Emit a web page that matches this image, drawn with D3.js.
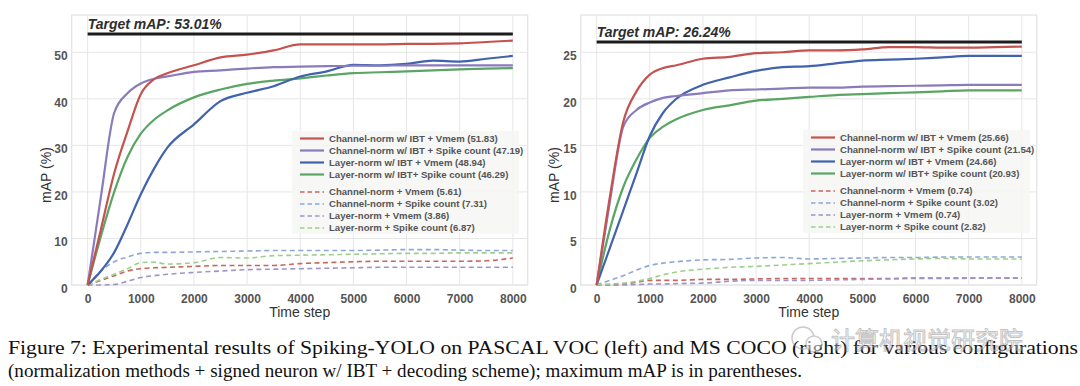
<!DOCTYPE html>
<html>
<head>
<meta charset="utf-8">
<script src="https://cdn.jsdelivr.net/npm/d3@7"></script>
<style>
  body { margin: 0; background: #fff; }
  svg { display: block; }
</style>
</head>
<body>
<div id="chart"></div>
<script>
// time steps shared by every curve
const steps = [0, 250, 500, 750, 1000, 1250, 1500, 2000, 2500, 3000, 3500, 4000, 4500, 5000, 5500, 6000, 6500, 7000, 7500, 8000];

// PASCAL VOC (left)
const vocChanIbtVmem  = [0, 12, 24, 33, 41, 44.2, 45.5, 47.2, 48.9, 49.5, 50.4, 51.7, 51.7, 51.7, 51.7, 51.8, 51.8, 51.9, 52.2, 52.5];
const vocChanIbtSpike = [0, 19, 37, 41.2, 43.3, 44.3, 44.8, 45.8, 46.1, 46.5, 46.8, 46.9, 47.0, 47.1, 47.1, 47.2, 47.2, 47.2, 47.2, 47.2];
const vocLayIbtVmem   = [0, 3, 7, 13, 19.5, 25, 29.5, 34.5, 39.5, 41.3, 42.7, 44.8, 45.9, 47.3, 47.2, 47.5, 48.2, 48.0, 48.6, 49.2];
const vocLayIbtSpike  = [0, 10.5, 20, 27.5, 32.5, 35.5, 37.5, 40.3, 42, 43.2, 43.9, 44.4, 45.0, 45.5, 45.7, 45.9, 46.1, 46.3, 46.5, 46.6];
const vocChanVmem     = [0, 1, 2, 3, 3.5, 3.7, 3.8, 4.0, 4.2, 4.2, 4.2, 4.6, 4.8, 5.0, 5.1, 5.1, 5.1, 5.1, 5.2, 5.8];
const vocChanSpike    = [0, 3, 5, 6, 6.8, 7.0, 7.0, 7.1, 7.2, 7.3, 7.4, 7.4, 7.4, 7.4, 7.5, 7.6, 7.6, 7.5, 7.4, 7.4];
const vocLayVmem      = [0, 0, 0.1, 0.8, 1.6, 2.0, 2.3, 2.7, 3.0, 3.3, 3.4, 3.5, 3.6, 3.7, 3.8, 3.8, 3.8, 3.8, 3.8, 3.8];
const vocLaySpike     = [0, 1.2, 2.3, 3.5, 4.8, 4.9, 4.5, 4.8, 5.9, 5.8, 6.3, 6.4, 6.5, 6.6, 6.7, 6.8, 6.8, 6.9, 6.9, 6.9];
const vocMaxima = ["51.83", "47.19", "48.94", "46.29", "5.61", "7.31", "3.86", "6.87"];

// MS COCO (right)
const cocoChanIbtVmem  = [0, 9.5, 17.5, 20.8, 22.6, 23.3, 23.6, 24.3, 24.5, 24.9, 25.0, 25.2, 25.2, 25.3, 25.55, 25.55, 25.5, 25.5, 25.55, 25.6];
const cocoChanIbtSpike = [0, 9, 17, 18.8, 19.6, 20.1, 20.3, 20.6, 20.9, 21.0, 21.1, 21.2, 21.2, 21.3, 21.35, 21.4, 21.45, 21.5, 21.5, 21.5];
const cocoLayIbtVmem   = [0, 4, 8, 12, 16, 18.5, 20, 21.5, 22.3, 23.0, 23.4, 23.5, 23.8, 24.1, 24.2, 24.3, 24.45, 24.6, 24.6, 24.6];
const cocoLayIbtSpike  = [0, 6, 10.5, 13.5, 15.8, 17.0, 17.8, 18.8, 19.3, 19.8, 20.0, 20.2, 20.4, 20.5, 20.6, 20.7, 20.8, 20.9, 20.9, 20.9];
const cocoChanVmem     = [0, 0, 0.1, 0.3, 0.5, 0.5, 0.5, 0.6, 0.6, 0.65, 0.7, 0.7, 0.7, 0.7, 0.7, 0.75, 0.75, 0.74, 0.74, 0.74];
const cocoChanSpike    = [0, 0.5, 1.0, 1.6, 2.1, 2.35, 2.5, 2.7, 2.75, 2.9, 2.95, 2.8, 2.85, 2.9, 2.95, 2.95, 3.0, 3.0, 3.0, 3.0];
const cocoLayVmem      = [0, 0, 0, 0.05, 0.1, 0.1, 0.15, 0.2, 0.4, 0.5, 0.5, 0.5, 0.55, 0.6, 0.65, 0.7, 0.7, 0.72, 0.74, 0.74];
const cocoLaySpike     = [0, 0.1, 0.2, 0.4, 0.7, 1.1, 1.4, 1.7, 1.9, 2.0, 2.15, 2.3, 2.45, 2.6, 2.7, 2.8, 2.85, 2.8, 2.8, 2.8];
const cocoMaxima = ["25.66", "21.54", "24.66", "20.93", "0.74", "3.02", "0.74", "2.82"];

// legend names (max value appended per panel)
const seriesNames = [
  "Channel-norm w/ IBT + Vmem",
  "Channel-norm w/ IBT + Spike count",
  "Layer-norm w/ IBT + Vmem",
  "Layer-norm w/ IBT+ Spike count",
  "Channel-norm + Vmem",
  "Channel-norm + Spike count",
  "Layer-norm + Vmem",
  "Layer-norm + Spike count"
];
const seriesColors = ["#c4534f", "#8a7bbd", "#4163ae", "#5aa564", "#c9655f", "#8ea6d8", "#9f93cc", "#9ccf8c"];
const seriesDashed = [false, false, false, false, true, true, true, true];

const xTicks = [0, 1000, 2000, 3000, 4000, 5000, 6000, 7000, 8000];
const vocYTicks = [0, 10, 20, 30, 40, 50];
const cocoYTicks = [0, 5, 10, 15, 20, 25];

// target line levels as drawn, and their labels
const targetLevels = [53.9, 26.1];
const targetLabels = ["Target mAP: 53.01%", "Target mAP: 26.24%"];

const captionLines = [
  "Figure 7: Experimental results of Spiking-YOLO on PASCAL VOC (left) and MS COCO (right) for various configurations",
  "(normalization methods + signed neuron w/ IBT + decoding scheme); maximum mAP is in parentheses."
];

const W = 1080, H = 386;
const svg = d3.select("#chart").append("svg").attr("width", W).attr("height", H);

const font = "'Liberation Sans', Arial, sans-serif";

function drawPanel(opt) {
  const g = svg.append("g");
  const x = d3.scaleLinear().domain([-300, 8280]).range([opt.left, opt.left + 456]);
  const y = d3.scaleLinear().domain([0, opt.yMax]).range([285, 15]);

  // plot background + frame
  g.append("rect")
    .attr("x", x.range()[0]).attr("y", 15)
    .attr("width", 456).attr("height", 270)
    .attr("fill", "#fff").attr("stroke", "#e2e2e2").attr("stroke-width", 1.2);

  // gridlines
  g.append("g").selectAll("line").data(xTicks).join("line")
    .attr("x1", d => x(d)).attr("x2", d => x(d))
    .attr("y1", 15).attr("y2", 285)
    .attr("stroke", "#e6e6e6").attr("stroke-width", 1);
  g.append("g").selectAll("line").data(opt.yTicks).join("line")
    .attr("x1", x.range()[0]).attr("x2", x.range()[1])
    .attr("y1", d => y(d)).attr("y2", d => y(d))
    .attr("stroke", "#e6e6e6").attr("stroke-width", 1);

  // axes (tick labels only)
  const xAxis = g.append("g").attr("transform", "translate(0,285)")
    .call(d3.axisBottom(x).tickValues(xTicks).tickFormat(d3.format("d")).tickSize(0).tickPadding(9));
  const yAxis = g.append("g").attr("transform", `translate(${x.range()[0]},0)`)
    .call(d3.axisLeft(y).tickValues(opt.yTicks).tickSize(0).tickPadding(4));
  [xAxis, yAxis].forEach(a => {
    a.select(".domain").remove();
    a.selectAll("text")
      .attr("fill", "#555").style("font-family", font)
      .style("font-size", "12px").style("font-weight", "bold");
  });
  yAxis.selectAll("text").attr("dy", "0.62em");

  // target line
  g.append("line")
    .attr("x1", x(0)).attr("x2", x(8000))
    .attr("y1", y(opt.target)).attr("y2", y(opt.target))
    .attr("stroke", "#1c1c1c").attr("stroke-width", 3);
  g.append("text")
    .attr("x", x(0)).attr("y", y(opt.target) - 5)
    .attr("fill", "#2e2e2e")
    .style("font-family", font).style("font-size", "14px")
    .style("font-weight", "bold").style("font-style", "italic")
    .text(opt.targetLabel);

  // curves
  const line = d3.line()
    .x((d, i) => x(steps[i]))
    .y(d => y(d))
    .curve(d3.curveMonotoneX);
  const order = [4, 5, 6, 7, 3, 2, 1, 0];
  order.forEach(k => {
    g.append("path")
      .attr("d", line(opt.series[k]))
      .attr("fill", "none")
      .attr("stroke", seriesColors[k])
      .attr("stroke-width", seriesDashed[k] ? 1.6 : 2.2)
      .attr("stroke-dasharray", seriesDashed[k] ? "5,3.5" : null);
  });

  // legend
  const lg = g.append("g").attr("transform", `translate(${opt.legendX},${opt.legendY})`);
  lg.append("rect")
    .attr("width", opt.legendW).attr("height", 103)
    .attr("fill", "#f6f6f3").attr("opacity", 0.85);
  seriesNames.forEach((name, i) => {
    const yy = 7.5 + i * 12 + (i >= 4 ? 5.5 : 0);
    lg.append("line")
      .attr("x1", 8).attr("x2", 32)
      .attr("y1", yy).attr("y2", yy)
      .attr("stroke", seriesColors[i])
      .attr("stroke-width", seriesDashed[i] ? 1.6 : 2.2)
      .attr("stroke-dasharray", seriesDashed[i] ? "4.5,3" : null);
    lg.append("text")
      .attr("x", 37).attr("y", yy).attr("dy", "0.35em")
      .attr("fill", "#555")
      .style("font-family", font).style("font-size", "9.6px").style("font-weight", "bold")
      .text(`${name} (${opt.maxima[i]})`);
  });

  // axis titles
  g.append("text")
    .attr("x", (x.range()[0] + x.range()[1]) / 2).attr("y", 317)
    .attr("text-anchor", "middle").attr("fill", "#333")
    .style("font-family", font).style("font-size", "14px")
    .text("Time step");
  g.append("text")
    .attr("transform", `translate(${opt.yLabelX},175) rotate(-90)`)
    .attr("text-anchor", "middle").attr("dy", "0.35em").attr("fill", "#333")
    .style("font-family", font).style("font-size", "14px")
    .text("mAP (%)");
}

drawPanel({
  left: 71.7, yMax: 58, yTicks: vocYTicks,
  target: targetLevels[0], targetLabel: targetLabels[0],
  series: [vocChanIbtVmem, vocChanIbtSpike, vocLayIbtVmem, vocLayIbtSpike, vocChanVmem, vocChanSpike, vocLayVmem, vocLaySpike],
  maxima: vocMaxima,
  legendX: 292, legendY: 131, legendW: 227, yLabelX: 46
});
drawPanel({
  left: 580.7, yMax: 29, yTicks: cocoYTicks,
  target: targetLevels[1], targetLabel: targetLabels[1],
  series: [cocoChanIbtVmem, cocoChanIbtSpike, cocoLayIbtVmem, cocoLayIbtSpike, cocoChanVmem, cocoChanSpike, cocoLayVmem, cocoLaySpike],
  maxima: cocoMaxima,
  legendX: 803, legendY: 130, legendW: 227, yLabelX: 554
});

// caption
const cap = svg.append("g");
cap.selectAll("text").data(captionLines).join("text")
  .attr("x", 8).attr("y", (d, i) => 354 + i * 23)
  .attr("textLength", (d, i) => i === 0 ? 1070 : 794)
  .attr("lengthAdjust", "spacingAndGlyphs")
  .attr("fill", "#111")
  .style("font-family", "'Liberation Serif', 'Times New Roman', serif")
  .style("font-size", "19px")
  .text(d => d);

// watermark overlay (sits over the caption as in the source image)
const wm = svg.append("g").attr("opacity", 0.5);
wm.append("circle").attr("cx", 803).attr("cy", 338).attr("r", 11)
  .attr("fill", "none").attr("stroke", "#999").attr("stroke-width", 1.5);
wm.append("circle").attr("cx", 814).attr("cy", 344).attr("r", 8)
  .attr("fill", "#fff").attr("stroke", "#999").attr("stroke-width", 1.5);
wm.append("text")
  .attr("x", 831).attr("y", 349)
  .attr("fill", "#fff").attr("stroke", "#888").attr("stroke-width", 1)
  .style("font-family", "'Noto Sans CJK SC', sans-serif").style("font-size", "24px")
  .text("计算机视觉研究院");
</script>
</body>
</html>
